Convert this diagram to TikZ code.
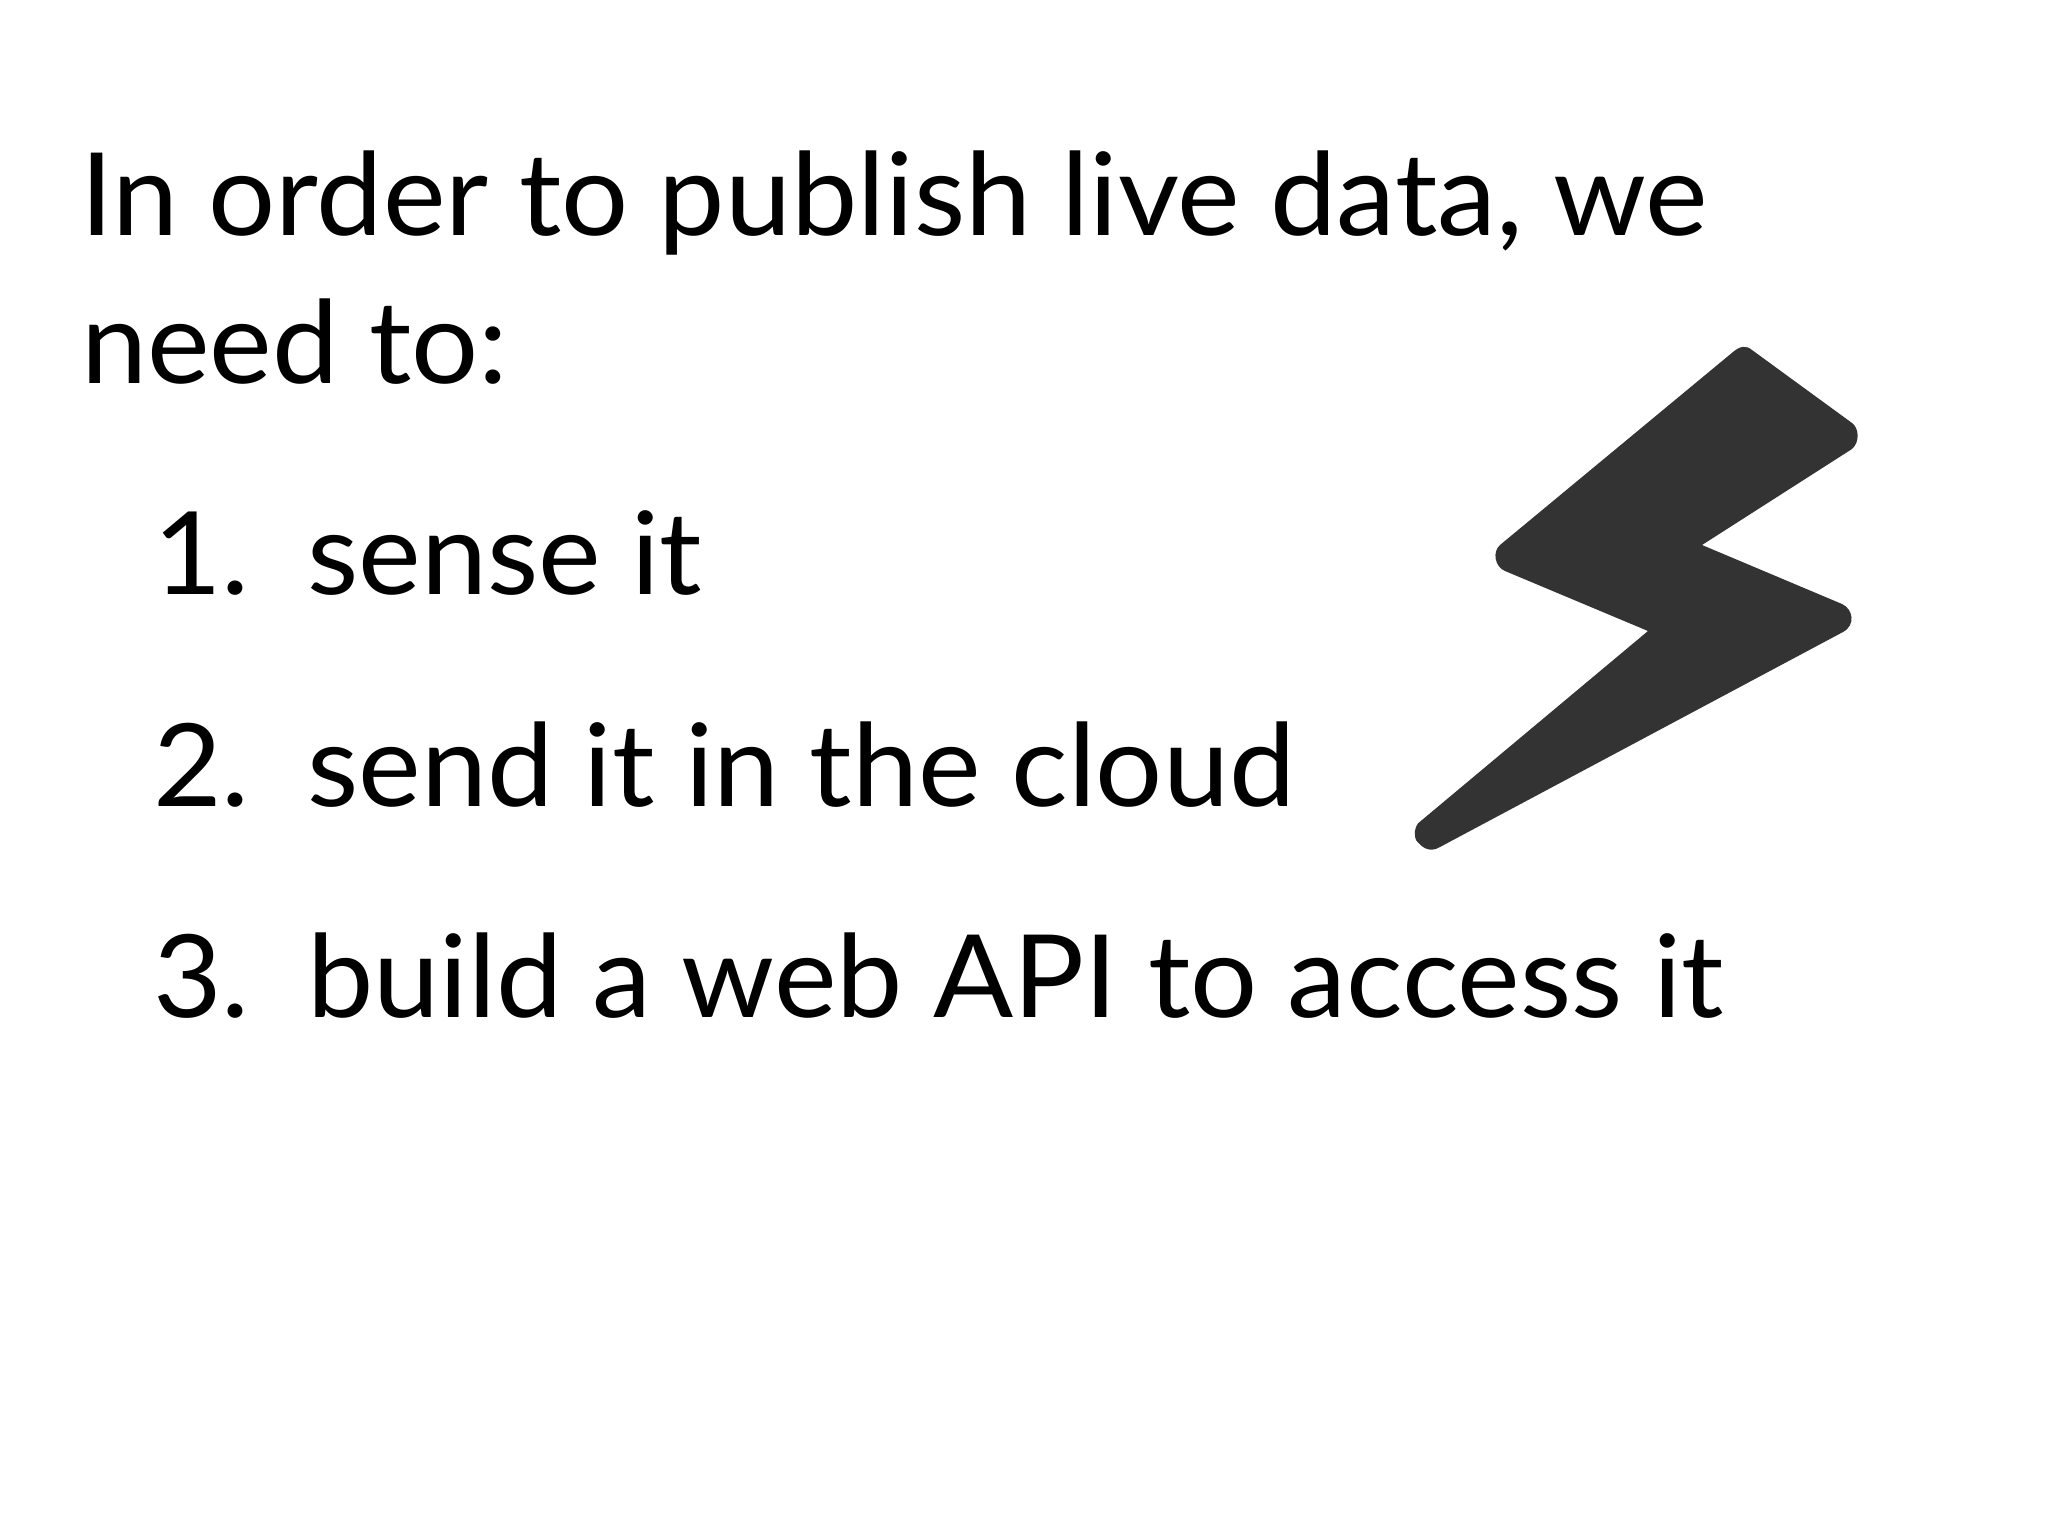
\documentclass[tikz,border=0pt]{standalone}
\usepackage{fontspec}
\setmainfont[FakeStretch=1.03]{Lato}
\tikzset{line/.style={anchor=base west,inner sep=0pt,font=\fontsize{115}{115}\selectfont}}
\begin{document}
\begin{tikzpicture}[x=1pt,y=-1pt]
\useasboundingbox (0,0) rectangle (2048,1536);
\fill[white] (0,0) rectangle (2048,1536);
\node[line] (a) at (80,235) {In order to publish live data, we};
\node[line] (b) at (81,383) {need to:};
\node[line,anchor=base east] (n1) at (250,594) {1.};
\node[line] (t1) at (307,594) {sense it};
\node[line,anchor=base east] (n2) at (250,806) {2.};
\node[line] (t2) at (307,806) {send it in the cloud};
\node[line,anchor=base east] (n3) at (250,1017) {3.};
\node[line] (t3) at (307,1017) {build a web API to access it};
\fill[black!80] (1733,352) .. controls (1740,346) and (1746,345) .. (1752,350)
 -- (1852,423) .. controls (1859,428) and (1860,442) .. (1852,449)
 -- (1702,545) -- (1842,604) .. controls (1853,609) and (1856,625) .. (1843,632)
 -- (1440,847) .. controls (1430,853) and (1422,848) .. (1416,840) .. controls (1413,832) and (1416,823) .. (1422,820)
 -- (1648,631) -- (1505,571) .. controls (1495,567) and (1492,552) .. (1500,545) -- cycle;
\end{tikzpicture}
\end{document}
